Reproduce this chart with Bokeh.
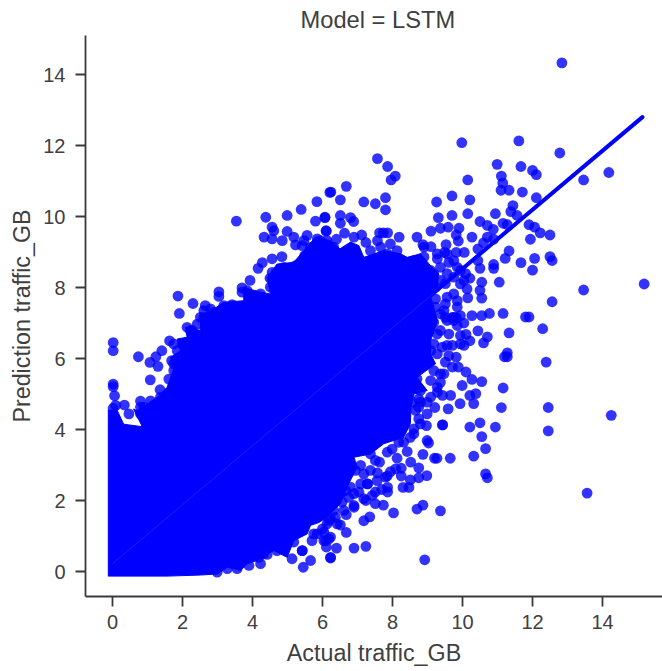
from bokeh.plotting import figure
from bokeh.models import Range1d, FixedTicker
from bokeh.embed import file_html
from bokeh.resources import INLINE

title_text = "Model = LSTM"
x_label = "Actual traffic_GB"
y_label = "Prediction traffic_GB"
x_ticks = [0, 2, 4, 6, 8, 10, 12, 14]
y_ticks = [0, 2, 4, 6, 8, 10, 12, 14]

# regression line
fit_x = [0.0, 15.14]
fit_y = [0.22, 12.8]

# outline of the saturated mass of points
mass_x = [-0.12, -0.12, 0.14, 0.32, 0.85, 0.6, 0.70, 1.28, 1.56, 1.75, 1.66, 1.94, 1.85, 2.13, 2.09, 2.51, 2.51,
          2.9, 3.18, 3.75, 3.75, 4.23, 4.51, 4.42, 4.70, 5.18, 5.47, 5.80, 6.23, 6.5, 6.80, 7.04, 7.18, 7.75,
          8.23, 8.42, 8.80, 9.04, 9.32, 9.28, 9.09, 9.18, 9.28, 9.23, 9.09, 9.09, 9.23, 8.70, 8.99, 8.61, 8.53,
          8.51, 8.32, 7.75, 7.37, 6.9, 6.99, 6.7, 6.51, 6.13, 5.9, 5.66, 5.56, 5.18, 4.99, 4.61, 4.13, 3.85,
          3.66, 3.28, 2.99, 2.51, 1.56, -0.12]
mass_y = [-0.13, 4.55, 4.53, 4.15, 4.08, 4.58, 4.53, 4.91, 5.19, 5.71, 6.03, 6.22, 6.55, 6.6, 6.88, 6.79, 7.21,
          7.4, 7.58, 7.63, 8.0, 7.87, 7.82, 8.29, 8.66, 8.71, 9.04, 9.42, 9.32, 9.09, 9.28, 9.18, 8.85, 9.04,
          8.95, 8.85, 8.95, 8.67, 8.38, 8.01, 7.73, 7.45, 7.07, 6.88, 6.51, 6.13, 5.85, 5.47, 5.1, 5.0, 4.63,
          4.16, 3.78, 3.6, 3.31, 3.22, 2.94, 2.38, 1.91, 1.53, 1.38, 1.3, 1.06, 0.87, 0.4, 0.59, 0.31, 0.22,
          0.03, 0.12, -0.07, -0.10, -0.13, -0.13]

# individually visible points
actual = [12.84, 9.98, 11.61, 12.78, 7.57, 7.86, 8.08, 7.96, 10.99, 11.67, 12.0, 12.11, 11.11, 13.46, 14.18, 10.15,
          11.15, 11.10, 11.33, 11.71, 12.11, 6.68, 6.24, 6.51, 7.18, 7.51, 7.80, 7.80, 9.26, 9.70, 10.21, 11.44,
          11.38, 11.56, 10.15, 9.70, 9.31, 10.94, 10.50, 11.16, 11.28, 10.71, 10.88, 11.90, 12.06, 12.22, 12.50,
          11.94, 9.37, 9.59, 9.90, 9.10, 9.82, 9.88, 10.27, 10.71, 10.89, 10.60, 10.44, 11.33, 11.22, 11.67, 12.06,
          12.50, 12.56, 12.0, 10.89, 10.89, 10.50, 10.44, 10.05, 9.82, 9.53, 9.49, 8.70, 8.19, 8.87, 9.10, 7.74,
          7.63, 7.86, 7.57, 7.12, 7.24, 6.51, 6.07, 6.80, 6.89, 6.51, 6.63, 6.11, 6.40, 11.05, 10.55, 10.50, 10.55,
          10.15, 10.21, 13.46, 15.19, 12.56, 11.16, 10.77, 10.55, 10.27, 11.80, 11.90,
          9.28, 9.61, 9.85, 10.09, 9.56, 9.94, 9.75, 9.85, 9.51, 9.23, 9.37, 9.18, 9.71, 9.37, 9.94,
          12.29, 11.33, 10.44, 10.71, 10.60, 10.21, 10.10, 9.82, 10.04, 11.28, 11.28, 11.20, 12.39, 9.82, 9.88,
          10.10, 10.27, 10.55, 9.99, 11.16, 10.38, 10.21, 10.32, 9.93, 9.59, 9.66, 9.43, 11.11, 12.45, 14.25,
          12.45, 9.43, 9.43, 10.21, 10.50, 10.94, 10.55, 10.66, 10.32, 9.65, 9.20, 9.27, 8.87, 8.99, 9.03, 10.66,
          10.71, 13.56, 8.98, 8.75, 8.52, 8.42, 8.13, 8.75, 8.51, 8.25, 8.25, 7.94, 7.85, 7.57, 7.63, 8.47, 8.30,
          7.86, 7.86, 7.69, 7.29, 7.42, 7.24, 7.74, 7.51, 6.90, 8.03, 8.87, 8.70, 9.37, 7.35, 7.18, 6.68, 6.68,
          6.51, 7.24, 6.90, 6.40, 6.23, 6.11, 6.18, 8.92,
          8.75, 8.99, 9.21, 8.75, 8.97, 8.61, 9.28, 9.37, 9.47, 9.51, 9.71, 9.42, 10.04, 9.09, 9.28, 9.75, 9.51,
          3.54, 4.38, 4.99, 5.39, 5.84, 6.21, 5.80, 6.07, 4.56, 4.61, 4.99, 4.33, 4.56, 4.85, 5.18, 5.23, 5.47,
          5.56, 6.10, 4.84, 4.56, 4.28, 4.16, 4.56, 4.50, 3.93, 3.70, 3.70, 3.04, 3.04, 1.87, 2.30, 2.65, 1.91,
          0.02, 0.02, 0.74, 1.41, 1.24, 1.07, 1.30, 1.08, 1.36, 0.02, 0.02, 0.06, 0.34, 0.80, 1.63, 1.69, 1.85,
          2.13, 2.28, 2.51, 3.18, 3.42, 4.90, 5.23, 5.49, 5.85, 4.23,
          5.45, 5.66, 5.42, 5.13, 4.23, 4.32, 6.23, 6.04, 5.75]
predicted = [14.33, 12.08, 12.13, 11.79, 11.63, 11.41, 11.14, 11.03, 11.47, 11.41, 11.30, 11.18, 11.14, 11.03, 11.24, 11.03,
             10.94, 10.74, 10.74, 10.69, 10.53, 10.85, 10.69, 10.47, 10.41, 10.36, 10.53, 10.19, 10.41, 10.58, 10.47, 10.31,
             10.14, 10.03, 10.08, 10.03, 9.97, 10.08, 9.86, 9.81, 9.77, 9.75, 9.64, 9.77, 9.70, 9.54, 9.48,
             9.36, 9.67, 9.70, 9.67, 9.59, 9.48, 9.31, 9.42, 9.42, 9.36, 9.26, 9.09, 9.03, 8.82, 8.70, 8.82,
             8.87, 8.76, 8.49, 8.65, 8.54, 8.54, 8.76, 8.99, 8.99, 9.21, 8.99, 9.42, 9.42, 9.21, 9.15, 9.54,
             9.54, 9.54, 9.32, 9.48, 9.27, 10.03, 9.97, 9.97, 9.86, 9.81, 9.53, 9.59, 9.36, 8.15, 8.15, 7.92, 7.70,
             7.71, 8.26, 7.93, 8.10, 7.60, 7.27, 7.27, 7.21, 7.21, 7.17, 7.17,
             8.81, 8.71, 8.57, 8.39, 8.39, 8.10, 7.82, 7.45, 7.54, 7.68, 8.2, 8.38, 7.16, 7.26, 7.21,
             6.84, 6.72, 6.78, 6.61, 6.44, 6.50, 6.68, 7.16, 7.0, 6.16, 6.05, 6.05, 5.90, 6.04, 5.76,
             5.62, 5.41, 5.35, 5.24, 5.17, 5.01, 4.96, 4.73, 4.73, 4.58, 4.96, 4.96, 4.62, 4.62, 4.40,
             3.96, 4.13, 4.13, 4.07, 4.19, 4.07, 3.80, 3.46, 3.25, 3.19, 3.19, 3.19, 3.30, 3.69, 3.62, 2.75,
             2.64, 2.21, 2.70, 2.92, 3.08, 3.38, 3.19, 2.64, 2.58, 2.69, 2.91, 2.81, 2.69, 2.78, 3.08, 2.37, 2.37,
             2.37, 2.24, 2.31, 2.47, 2.14, 2.00, 1.87, 1.91, 1.86, 1.65, 1.87, 1.76, 1.71, 1.54, 1.43, 1.60, 1.10,
             1.31, 0.71, 0.66, 0.66, 0.38, 0.69, 0.92, 0.33,
             4.63, 4.77, 4.62, 4.30, 4.11, 3.88, 5.05, 5.33, 5.57, 5.90, 6.37, 6.32, 6.37, 6.22, 6.69, 7.07, 7.16,
             9.87, 9.98, 10.03, 10.20, 10.42, 10.68, 9.87, 9.98, 9.70, 9.60, 9.58, 9.42, 9.37, 9.32, 9.42, 9.20, 9.32,
             9.47, 9.60, 8.87, 8.81, 8.70, 8.54, 8.43, 8.26, 8.20, 7.99, 7.87, 7.88, 7.75, 7.76, 7.55, 7.49, 7.27,
             6.45, 6.22, 6.05, 6.22, 6.05, 5.89, 5.78, 5.40, 5.12, 5.28, 5.21, 4.95, 4.69, 4.80, 6.50, 5.94, 5.99,
             6.88, 6.79, 7.16, 7.49, 7.52, 8.57, 8.62, 8.90, 9.37, 7.82,
             0.12, 0.31, 0.59, 0.36, 0.22, 0.5, 0.4, 0.87, 1.06]

# points crowding the rim of the mass
rim_actual = [7.99, 8.18, 7.85, 7.51, 7.37, 7.09, 6.94, 7.18, 7.28, 7.04, 6.75, 6.56, 6.90, 7.37, 7.80, 8.09, 7.56,
              7.09, 6.80, 6.51, 6.32, 6.13, 6.42, 6.04, 6.23, 6.37, 6.66, 7.51, 7.18, 6.90, 6.61, 6.23,
              8.56, 8.80, 8.66, 8.99, 8.80, 8.61, 8.51, 8.32, 8.75, 9.28, 9.09, 8.80, 8.70, 9.09, 9.37, 9.18, 8.90,
              9.28, 9.56, 9.18, 8.90, 9.37, 9.61, 9.94, 9.18, 9.56, 9.85, 9.94, 9.61, 9.71,
              6.13, 6.32, 6.90, 7.37, 7.66, 7.94, 8.13, 8.23, 7.85, 8.61, 8.90, 9.09, 8.80, 9.23, 9.51, 9.75, 10.04,
              10.13, 9.56, 9.85, 9.23, 9.47, 9.75, 8.90, 9.28, 9.56, 9.37, 9.75, 9.94,
              1.75, 1.99, 2.23, 2.42, 2.61, 2.90, 1.75, 1.61, 1.75, 1.37, 1.09, 0.80, 3.85, 4.04, 4.85, 4.51, 5.09,
              5.32, 5.66, 5.94, 5.42, 1.85, 2.13, 2.61, 2.80,
              4.18, 4.42, 4.90, 5.18, 5.42, 5.70, 5.85, 6.09, 6.18, 6.0, 3.90, 3.56, 3.28, 2.99, 4.70,
              0.09, 0.47, 0.90, 0.80, 0.02]
rim_predicted = [3.45, 3.64, 3.36, 3.13, 3.31, 2.99, 2.85, 2.75, 2.47, 2.24, 2.09, 1.95, 2.19, 2.85, 2.66, 2.89, 2.56,
                 2.47, 2.38, 2.19, 1.72, 1.34, 1.34, 1.11, 0.97, 1.53, 2.28, 2.24, 2.05, 1.81, 1.72, 1.48,
                 4.77, 4.77, 4.54, 4.44, 4.16, 4.02, 3.78, 3.64, 4.86, 5.19, 4.91, 5.10, 5.43, 5.38, 5.57, 5.66, 5.85,
                 6.13, 6.37, 6.41, 6.65, 6.79, 6.69, 6.65, 7.02, 7.07, 6.93, 6.41, 6.08, 5.76,
                 9.32, 9.14, 9.42, 9.04, 9.14, 9.23, 9.04, 8.76, 8.95, 8.76, 8.86, 8.48, 8.57, 8.01, 8.11, 8.29, 8.20,
                 7.96, 7.73, 7.63, 7.45, 7.35, 7.16, 9.14, 8.95, 8.95, 8.57, 8.76, 8.48,
                 6.41, 6.41, 6.79, 6.97, 7.16, 7.30, 5.85, 5.42, 5.66, 4.91, 4.81, 4.63, 7.91, 7.77, 8.52, 8.01, 8.48,
                 8.66, 9.13, 9.32, 9.18, 6.22, 6.31, 7.35, 7.40,
                 0.40, 0.48, 0.87, 0.83, 0.59, 0.87, 1.06, 0.87, 1.44, 1.20, 0.17, 0.08, 0.08, -0.02, 0.59,
                 4.68, 4.44, 4.63, 4.44, 4.60]

ink = "#3a3a3a"
text_color = "#404040"
font = "Liberation Sans"

p = figure(width=662, height=671, output_backend="svg", toolbar_location=None,
           x_range=Range1d(-0.771, 15.714), y_range=Range1d(-0.704, 15.1),
           min_border_left=85, min_border_right=0, min_border_top=35, min_border_bottom=75)
p.background_fill_color = "white"
p.border_fill_color = "white"
p.outline_line_color = None
p.grid.visible = False

p.patch(mass_x, mass_y, fill_color="#0000ff", line_color="#0000ff", line_width=1)
p.scatter(actual, predicted, size=10.8, marker="circle", fill_color="#0000ff", fill_alpha=0.8, line_color=None)
p.scatter(rim_actual, rim_predicted, size=10.8, marker="circle", fill_color="#0000ff", fill_alpha=0.8, line_color=None)
p.line(fit_x, fit_y, line_color="#0000ff", line_width=4, line_cap="round")
p.line([0.0, 9.2], [0.22, 7.86], line_color="#1c1cff", line_width=1)

p.title.text = title_text
p.title.align = "left"
p.title.offset = 215
p.title.standoff = 6
p.title.text_font = font
p.title.text_font_size = "23.7px"
p.title.text_font_style = "normal"
p.title.text_color = text_color

for ax, label, ticks in ((p.xaxis[0], x_label, x_ticks), (p.yaxis[0], y_label, y_ticks)):
    ax.axis_label = label
    ax.axis_label_text_font = font
    ax.axis_label_text_font_size = "23.3px"
    ax.axis_label_text_font_style = "normal"
    ax.axis_label_text_color = text_color
    ax.major_label_text_font = font
    ax.major_label_text_font_size = "20px"
    ax.major_label_text_color = text_color
    ax.ticker = FixedTicker(ticks=ticks)
    ax.axis_line_color = ink
    ax.axis_line_width = 1.8
    ax.major_tick_line_color = ink
    ax.major_tick_line_width = 1.8
    ax.major_tick_out = 10
    ax.major_tick_in = 0
    ax.minor_tick_line_color = None
p.yaxis[0].major_label_orientation = "horizontal"
p.yaxis[0].major_label_standoff = 10
p.xaxis[0].major_label_standoff = 8
p.xaxis[0].axis_label_standoff = 8

open("out.html", "w").write(file_html(p, INLINE))
